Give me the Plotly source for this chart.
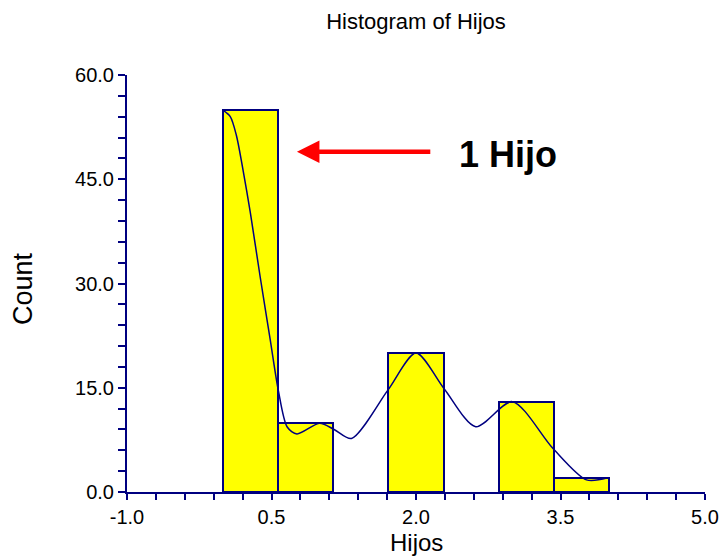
import numpy as np
import plotly.graph_objects as go

# ---- data ----
bin_edges = [0.0, 4/7, 8/7, 12/7, 16/7, 20/7, 24/7, 4.0]
counts = [55, 10, 0, 20, 0, 13, 2]

kde_x = [0.0, 0.072, 0.134, 0.196, 0.279, 0.383, 0.487, 0.570, 0.663, 0.764,
         1.0, 1.15, 1.33, 1.71, 2.0, 2.29, 2.62, 3.0, 3.42, 3.77, 3.99]
kde_y = [54.9, 54.0, 51.4, 47.0, 40.3, 30.9, 21.9, 14.7, 9.35, 8.35,
         9.9, 9.0, 7.7, 14.7, 20.0, 14.9, 9.4, 13.0, 6.3, 1.75, 2.05]

x_tick_vals = [-1.0, 0.5, 2.0, 3.5, 5.0]
x_tick_text = ["-1.0", "0.5", "2.0", "3.5", "5.0"]
y_tick_vals = [0, 15, 30, 45, 60]
y_tick_text = ["0.0", "15.0", "30.0", "45.0", "60.0"]

x_range = [-1.0, 5.0]
y_range = [0.0, 60.0]

title_text = "Histogram of Hijos"
x_title = "Hijos"
y_title = "Count"
note_text = "1 Hijo"
arrow_tip = (0.764, 48.96)
arrow_tail = (2.164, 48.96)
note_pos = (2.956, 48.5)

NAVY = "#000080"
FONT = "Arial, Liberation Sans, sans-serif"

W, H = 721, 560

edges = np.array(bin_edges)
centers = (edges[:-1] + edges[1:]) / 2
widths = edges[1:] - edges[:-1]
cnt = np.array(counts)
mask = cnt > 0

fig = go.Figure()
fig.add_trace(go.Bar(
    x=centers[mask], y=cnt[mask], width=widths[mask],
    marker=dict(color="#FFFF00", line=dict(color=NAVY, width=2)),
    showlegend=False, hoverinfo="skip",
))
fig.add_trace(go.Scatter(
    x=kde_x, y=kde_y, mode="lines",
    line=dict(color=NAVY, width=1.5, shape="spline", smoothing=0.8),
    showlegend=False, hoverinfo="skip",
))

fig.add_annotation(
    x=arrow_tip[0], y=arrow_tip[1], ax=arrow_tail[0], ay=arrow_tail[1],
    xref="x", yref="y", axref="x", ayref="y",
    text="", showarrow=True, arrowhead=2, arrowsize=1, arrowwidth=4.5,
    arrowcolor="#FF0000",
)
fig.add_annotation(
    x=note_pos[0], y=note_pos[1], xref="x", yref="y",
    text="<b>" + note_text + "</b>", showarrow=False,
    font=dict(family=FONT, size=36, color="black"),
)
# axis titles
fig.add_annotation(
    x=-0.18, y=0.489, xref="paper", yref="paper", text=y_title, textangle=-90,
    showarrow=False, xanchor="center", yanchor="middle",
    font=dict(family=FONT, size=27, color="black"),
)
fig.add_annotation(
    x=0.5, y=-0.1223, xref="paper", yref="paper", text=x_title,
    showarrow=False, xanchor="center", yanchor="middle",
    font=dict(family=FONT, size=24, color="black"),
)

fig.update_layout(
    width=W, height=H,
    margin=dict(l=127, r=16, t=75, b=68, autoexpand=False),
    paper_bgcolor="white", plot_bgcolor="white",
    bargap=0,
    title=dict(text=title_text, x=416/W, xanchor="center", y=1 - 21/H,
               yanchor="middle", yref="container",
               font=dict(family=FONT, size=22, color="black")),
    font=dict(family=FONT, color="black"),
)

fig.update_xaxes(
    range=x_range, tickmode="array", tickvals=x_tick_vals, ticktext=x_tick_text,
    automargin=False,
    showline=True, linecolor=NAVY, linewidth=2,
    ticks="outside", ticklen=6, tickwidth=1.5, tickcolor=NAVY,
    minor=dict(dtick=0.3, tick0=-1.0, ticks="outside", ticklen=6, tickwidth=1.5, tickcolor=NAVY),
    showgrid=False, zeroline=False,
    tickfont=dict(family=FONT, size=20, color="black"),
)
fig.update_yaxes(
    range=y_range, tickmode="array", tickvals=y_tick_vals, ticktext=y_tick_text,
    automargin=False,
    showline=True, linecolor=NAVY, linewidth=2,
    ticks="outside", ticklen=7, tickwidth=1.5, tickcolor=NAVY,
    minor=dict(dtick=3, tick0=0, ticks="outside", ticklen=7, tickwidth=1.5, tickcolor=NAVY),
    showgrid=False, zeroline=False,
    tickfont=dict(family=FONT, size=20, color="black"),
)

fig.write_html(
    "out.html",
    config={"displayModeBar": False},
    post_script="document.body.style.margin='0px';"
                "document.documentElement.style.overflow='hidden';"
                "document.body.style.overflow='hidden';",
)
